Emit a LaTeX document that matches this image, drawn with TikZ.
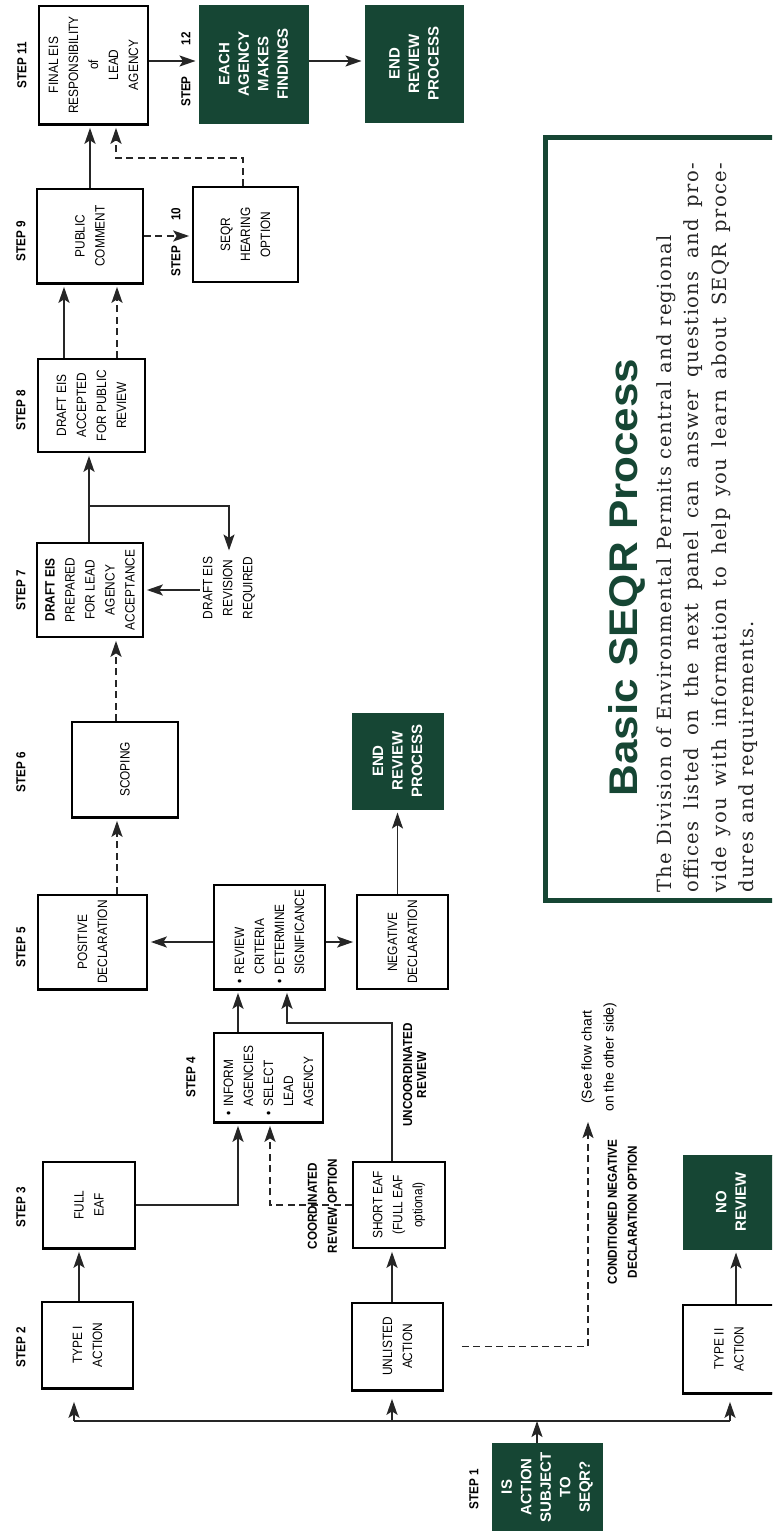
\documentclass[tikz,border=0pt]{standalone}
\usepackage{fontspec}
\setmainfont{Liberation Sans}
\newfontfamily\fnarrow[FakeStretch=0.88]{Liberation Sans}
\newfontfamily\fnarrowb[FakeStretch=0.9]{Liberation Sans}
\newfontfamily\ftitlefam[FakeStretch=1.1]{Liberation Sans}
\newfontfamily\fserif[LetterSpace=7]{DejaVu Serif}
\usetikzlibrary{arrows.meta,calc}
\definecolor{dg}{RGB}{22,70,52}
\newcommand\fBox{\fnarrow\fontsize{13.5pt}{20pt}\selectfont}
\newcommand\fStep{\fnarrowb\bfseries\fontsize{13pt}{20pt}\selectfont}
\newcommand\fStepTight{\fnarrowb\bfseries\fontsize{13pt}{14pt}\selectfont}
\newcommand\fDark{\bfseries\fontsize{15pt}{19.5pt}\selectfont}
\newcommand\fNote{\fontsize{14pt}{22pt}\selectfont}
\newcommand\fTitle{\ftitlefam\bfseries\fontsize{40pt}{44pt}\selectfont}
\newcommand\fBody{\fserif\fontsize{19.5pt}{27pt}\selectfont}
\begin{document}
\begin{tikzpicture}[x=1pt,y=-1pt,
  wbox/.style={draw=black, line width=1.7pt, fill=white, rotate=90, align=center, font=\fBox, inner sep=3pt},
  dbox/.style={draw=dg, fill=dg, line width=1pt, rotate=90, align=center, font=\fDark, text=white, inner sep=3pt},
  steplbl/.style={rotate=90, font=\fStep, inner sep=1pt},
  blbl/.style={rotate=90, font=\fStep, align=center, inner sep=1pt},
  plain/.style={rotate=90, font=\fBox, align=center, inner sep=3pt},
  bodyln/.style={rotate=90, anchor=base west, inner sep=0pt, font=\fBody, text=black!85},
  ln/.style={line width=1.7pt, draw=black!85},
  arr/.style={ln, -{Stealth[length=16pt,width=11pt,inset=3.5pt]}, shorten >=3pt},
  darr/.style={arr, dash pattern=on 7pt off 4.5pt},
  edge/.style={line width=3pt, draw=black},
]
\useasboundingbox (0,0) rectangle (772,1531);
\clip (0,0) rectangle (772,1531);
\fill[white] (0,0) rectangle (772,1531);

% ---------- boxes ----------
\node[wbox, minimum height=91pt, minimum width=86pt] (t1) at (87.5,1345) {TYPE I\\ACTION};
\node[wbox, minimum height=91pt, minimum width=87pt] (unl) at (397.5,1346.5) {UNLISTED\\ACTION};
\node[wbox, minimum height=92pt, minimum width=88pt] (t2) at (729,1349) {TYPE II\\ACTION};
\node[dbox, minimum height=110pt, minimum width=88pt] (isq) at (547,1487) {IS\\ACTION\\SUBJECT\\TO\\SEQR?};
\node[dbox, minimum height=96pt, minimum width=94pt] (nor) at (731,1202) {NO\\REVIEW};
\node[wbox, minimum height=92pt, minimum width=86pt] (feaf) at (89,1205) {FULL\\EAF};
\node[wbox, minimum height=92pt, minimum width=86pt] (seaf) at (399,1205) {SHORT EAF\\(FULL EAF\\optional)};
\node[wbox, minimum height=109pt, minimum width=89pt, align=left, text width=76pt] (inf) at (268.5,1077.5)
  {\textbullet\ INFORM\\\hphantom{\textbullet\ }AGENCIES\\\textbullet\ SELECT\\\hphantom{\textbullet\ }LEAD\\\hphantom{\textbullet\ }AGENCY};
\node[wbox, minimum height=109pt, minimum width=94pt] (posd) at (92.5,942) {POSITIVE\\DECLARATION};
\node[wbox, minimum height=111pt, minimum width=104pt, align=left, text width=92pt] (rev) at (269.5,937)
  {\textbullet\ REVIEW\\\hphantom{\textbullet\ }CRITERIA\\\textbullet\ DETERMINE\\\hphantom{\textbullet\ }SIGNIFICANCE};
\node[wbox, minimum height=91pt, minimum width=94pt] (negd) at (402.5,942) {NEGATIVE\\DECLARATION};
\node[dbox, minimum height=91pt, minimum width=96pt] (end1) at (397.5,761) {END\\REVIEW\\PROCESS};
\node[wbox, minimum height=106pt, minimum width=95pt] (scp) at (125,769.5) {SCOPING};
\node[wbox, minimum height=106pt, minimum width=94pt] (dep) at (90,590) {\textbf{DRAFT EIS}\\PREPARED\\FOR LEAD\\AGENCY\\ACCEPTANCE};
\node[plain] (revtxt) at (229,588) {DRAFT EIS\\REVISION\\REQUIRED};
\node[wbox, minimum height=107pt, minimum width=93pt] (acc) at (91.5,405.5) {DRAFT EIS\\ACCEPTED\\FOR PUBLIC\\REVIEW};
\node[wbox, minimum height=106pt, minimum width=94pt] (pub) at (90,236) {PUBLIC\\COMMENT};
\node[wbox, minimum height=105pt, minimum width=95pt] (hear) at (245.5,234.5) {SEQR\\HEARING\\OPTION};
\node[wbox, minimum height=109pt, minimum width=118pt] (fin) at (93.5,65) {FINAL EIS\\RESPONSIBILITY\\of\\LEAD\\AGENCY};
\node[dbox, minimum height=109pt, minimum width=118pt] (each) at (253.5,64) {EACH\\AGENCY\\MAKES\\FINDINGS};
\node[dbox, minimum height=98pt, minimum width=117pt] (end2) at (414,63.5) {END\\REVIEW\\PROCESS};

% heavier lower edges (scan look)
\foreach \n in {t1,unl,t2,feaf,inf,posd,rev,scp,pub,fin}
  \draw[edge] (\n.south west) -- (\n.north west);

% ---------- step labels ----------
\node[steplbl] (s1) at (474,1489) {STEP 1};
\node[steplbl] (s2) at (21,1347) {STEP 2};
\node[steplbl] (s3) at (21,1207) {STEP 3};
\node[steplbl] (s4) at (191,1077) {STEP 4};
\node[steplbl] (s5) at (21,947) {STEP 5};
\node[steplbl] (s6) at (21,772) {STEP 6};
\node[steplbl] (s7) at (21,590) {STEP 7};
\node[steplbl] (s8) at (21,410) {STEP 8};
\node[steplbl] (s9) at (21,241) {STEP 9};
\node[steplbl] (s10) at (176,242) {STEP\hspace{25pt}10};
\node[steplbl] (s11) at (22,65) {STEP 11};
\node[steplbl] (s12) at (186,69.5) {STEP\hspace{31pt}12};

% ---------- bold labels and notes ----------
\node[blbl] (coord) at (322.5,1206) {COORDINATED\\REVIEW OPTION};
\node[blbl, font=\fStepTight] (uncoord) at (414.5,1075) {UNCOORDINATED\\REVIEW};
\node[blbl] (cond) at (622.5,1212) {CONDITIONED NEGATIVE\\DECLARATION OPTION};
\node[rotate=90, font=\fNote, align=center, inner sep=1pt] (seetxt) at (599,1057) {(See flow chart\\on the other side)};

% ---------- connectors ----------
\coordinate (busL) at (74,1421);
\coordinate (busR) at (730,1421);
\draw[ln] (busL) -- (busR);
\draw[arr, shorten >=13pt] (busL) -- (busL |- t1.west);
\coordinate (uA) at ([xshift=-5.5pt]unl.west);
\draw[arr, shorten >=8pt] (uA |- busL) -- (uA);
\draw[arr, shorten >=8pt] (busR) -- (busR |- t2.west);
\coordinate (iA) at ([xshift=-10pt]isq.east);
\draw[arr, shorten >=0pt] (iA) -- (iA |- busL);

\coordinate (tA) at ([xshift=-8.5pt]t1.east);
\draw[arr] (tA) -- (tA |- feaf.west);
\coordinate (uB) at ([xshift=-5.5pt]unl.east);
\draw[arr] (uB) -- (uB |- seaf.west);
\coordinate (t2A) at ([xshift=7pt]t2.east);
\draw[arr] (t2A) -- (t2A |- nor.west);

\coordinate (dtip) at (588,1122);
\draw[darr, shorten <=18pt, shorten >=0pt] (unl.south) -| (dtip);

\coordinate (iB) at ([xshift=-30.5pt]inf.west);
\draw[arr] (feaf.south) -| (iB);
\coordinate (iC) at ([xshift=1.5pt]inf.west);
\draw[darr] (seaf.north) -| (iC);

\coordinate (sA) at ([xshift=-7pt]seaf.east);
\coordinate (uc) at (287,1023);
\coordinate (rA) at ([xshift=17.5pt]rev.west);
\draw[arr] (sA) |- (uc) -- (rA);
\coordinate (iD) at ([xshift=-30.5pt]inf.east);
\draw[arr] (iD) -- (iD |- rev.west);

\draw[arr] (rev.north |- posd) -- (posd.south);
\draw[arr] (rev.south |- negd) -- (negd.north);
\coordinate (nA) at ([xshift=-5pt]negd.east);
\draw[arr] (nA) -- (nA |- end1.west);

\coordinate (pA) at ([xshift=24.5pt]posd.east);
\draw[darr] (pA) -- (pA |- scp.west);
\coordinate (sB) at ([xshift=-9pt]scp.east);
\draw[darr] (sB) -- (sB |- dep.west);

\draw[arr] (revtxt.north |- dep) -- (dep.south);
\coordinate (dA) at ([xshift=-1pt]dep.east);
\draw[arr] (dA) -- (dA |- acc.west);
\coordinate (br) at (89,506);
\draw[arr] (br) -| (revtxt.east);

\coordinate (aA) at ([xshift=-27.5pt]acc.east);
\draw[arr] (aA) -- (aA |- pub.west);
\coordinate (aB) at ([xshift=25.5pt]acc.east);
\draw[darr] (aB) -- (aB |- pub.west);

\draw[darr] (pub.south) -- (pub.south -| hear.north);
\draw[arr] (pub.east) -- (pub.east |- fin.west);
\coordinate (hA) at ([xshift=-2.5pt]hear.east);
\coordinate (hc) at (116,158);
\draw[darr] (hA) |- (hc) -- (hc |- fin.west);

\coordinate (fA) at ([yshift=4pt]fin.south);
\draw[arr] (fA) -- (fA -| each.north);
\coordinate (eA) at ([yshift=3pt]each.south);
\draw[arr] (eA) -- (eA -| end2.north);

% ---------- information panel ----------
\draw[dg, line width=5pt] (780,137.5) -- (545.5,137.5) -- (545.5,900.5) -- (780,900.5);
\node[rotate=90, anchor=base, inner sep=0pt, font=\fTitle, text=dg] (title) at (637,577.5) {Basic SEQR Process};
\node[bodyln] (b1) at (671,893) {The Division of Environmental Permits central and regional};
\node[bodyln] (b2) at (698.5,893) {\makebox[730pt][s]{offices listed on the next panel can answer questions and pro-}};
\node[bodyln] (b3) at (726,893) {\makebox[730pt][s]{vide you with information to help you learn about SEQR proce-}};
\node[bodyln] (b4) at (753.5,893) {dures and requirements.};
\end{tikzpicture}
\end{document}
